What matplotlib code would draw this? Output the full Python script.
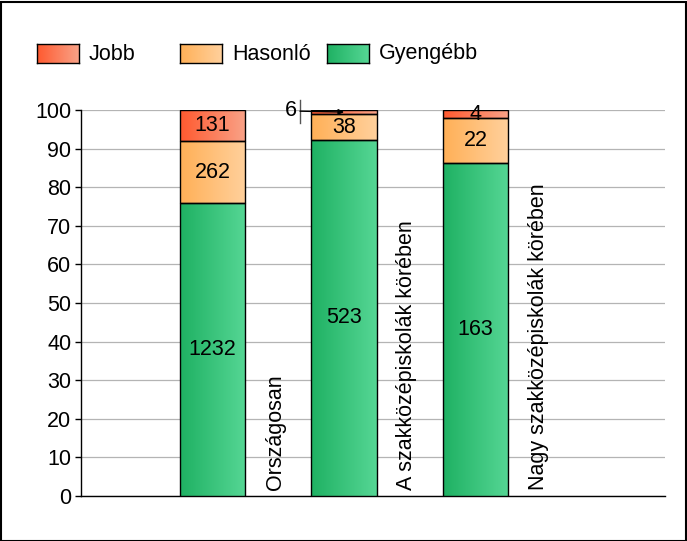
import numpy as np
import matplotlib
matplotlib.use("Agg")
import matplotlib.pyplot as plt
from matplotlib.patches import Rectangle
from matplotlib.colors import LinearSegmentedColormap

plt.rcParams['font.family'] = ['Liberation Sans', 'DejaVu Sans']

categories = ["Országosan", "A szakközépiskolák körében", "Nagy szakközépiskolák körében"]
series_names = ["Jobb", "Hasonló", "Gyengébb"]
jobb = [131, 6, 4]
hasonlo = [262, 38, 22]
gyengebb = [1232, 523, 163]
yticks = [0, 10, 20, 30, 40, 50, 60, 70, 80, 90, 100]

grad = {
    "Jobb": ("#ff5a30", "#f9a287"),
    "Hasonló": ("#ffb057", "#ffd09c"),
    "Gyengébb": ("#1fb163", "#55d694"),
}

FS = 15.5
W, H = 687, 541
fig = plt.figure(figsize=(W / 100, H / 100), dpi=100)
ax = fig.add_axes([81 / W, 1 - 496 / H, (665 - 81) / W, (496 - 110) / H])

x = np.arange(len(categories))
width = 0.5
totals = np.array(jobb) + np.array(hasonlo) + np.array(gyengebb)
stack = [("Gyengébb", gyengebb), ("Hasonló", hasonlo), ("Jobb", jobb)]

ax.set_xlim(-1.0, 3.44)
ax.set_ylim(0, 100)

def grad_img(name):
    c1, c2 = grad[name]
    cmap = LinearSegmentedColormap.from_list(name, [c1, c2])
    return cmap(np.linspace(0, 1, 64))[None, :, :]

bottom = np.zeros(len(categories))
for name, vals in stack:
    pct = np.array(vals) / totals * 100
    bars = ax.bar(x, pct, width, bottom=bottom, facecolor='none', edgecolor='black',
                  linewidth=1.0, zorder=4)
    for i, b in enumerate(bars):
        x0, y0 = b.get_x(), b.get_y()
        ax.imshow(grad_img(name), extent=[x0, x0 + b.get_width(), y0, y0 + b.get_height()],
                  aspect='auto', zorder=3, interpolation='bilinear')
        cy = y0 + b.get_height() / 2
        if name == "Jobb" and i == 1:
            ax.text(0.645, 99.9, str(vals[i]), ha='right', va='center', fontsize=FS, zorder=6)
            ax.plot([0.665, 0.665], [96.6, 102.6], color='#555555', lw=1.0, clip_on=False, zorder=6)
            ax.annotate('', xy=(1.0, cy), xytext=(0.665, 99.7),
                        arrowprops=dict(arrowstyle='-|>', color='black', lw=1.0,
                                        mutation_scale=8, shrinkA=0, shrinkB=0),
                        zorder=6, annotation_clip=False)
        else:
            ax.text(x[i], cy, str(vals[i]), ha='center', va='center', fontsize=FS, zorder=6)
    bottom += pct

for i, c in enumerate(categories):
    ax.text(x[i] + 0.475, 1.5, c, rotation=90, ha='center', va='bottom', fontsize=FS, zorder=6)

ax.set_yticks(yticks)
ax.set_yticklabels([str(t) for t in yticks], fontsize=FS)
ax.set_xticks([])
ax.yaxis.grid(True, color='#b4b4b4', linewidth=0.9)
ax.set_axisbelow(True)
for s in ['top', 'right']:
    ax.spines[s].set_visible(False)
ax.spines['left'].set_linewidth(1.0)
ax.spines['bottom'].set_linewidth(1.0)
ax.tick_params(axis='y', length=4, width=1.0, pad=3)

# legend with gradient patches
leg_items = [("Jobb", 37), ("Hasonló", 180), ("Gyengébb", 327)]
for name, px in leg_items:
    lax = fig.add_axes([px / W, 1 - 63 / H, 42 / W, 19 / H])
    lax.imshow(grad_img(name), extent=[0, 1, 0, 1], aspect='auto', interpolation='bilinear')
    lax.set_xticks([]); lax.set_yticks([])
    for s in lax.spines.values():
        s.set_linewidth(1.0)
    fig.text((px + 52) / W, 1 - 54 / H, name, ha='left', va='center', fontsize=FS)

fig.patches.append(Rectangle((0.5 / W, 0.5 / H), 1 - 2 / W, 1 - 2 / H, transform=fig.transFigure,
                             fill=False, edgecolor='black', linewidth=1.5))

fig.savefig("out.png", dpi=100)
